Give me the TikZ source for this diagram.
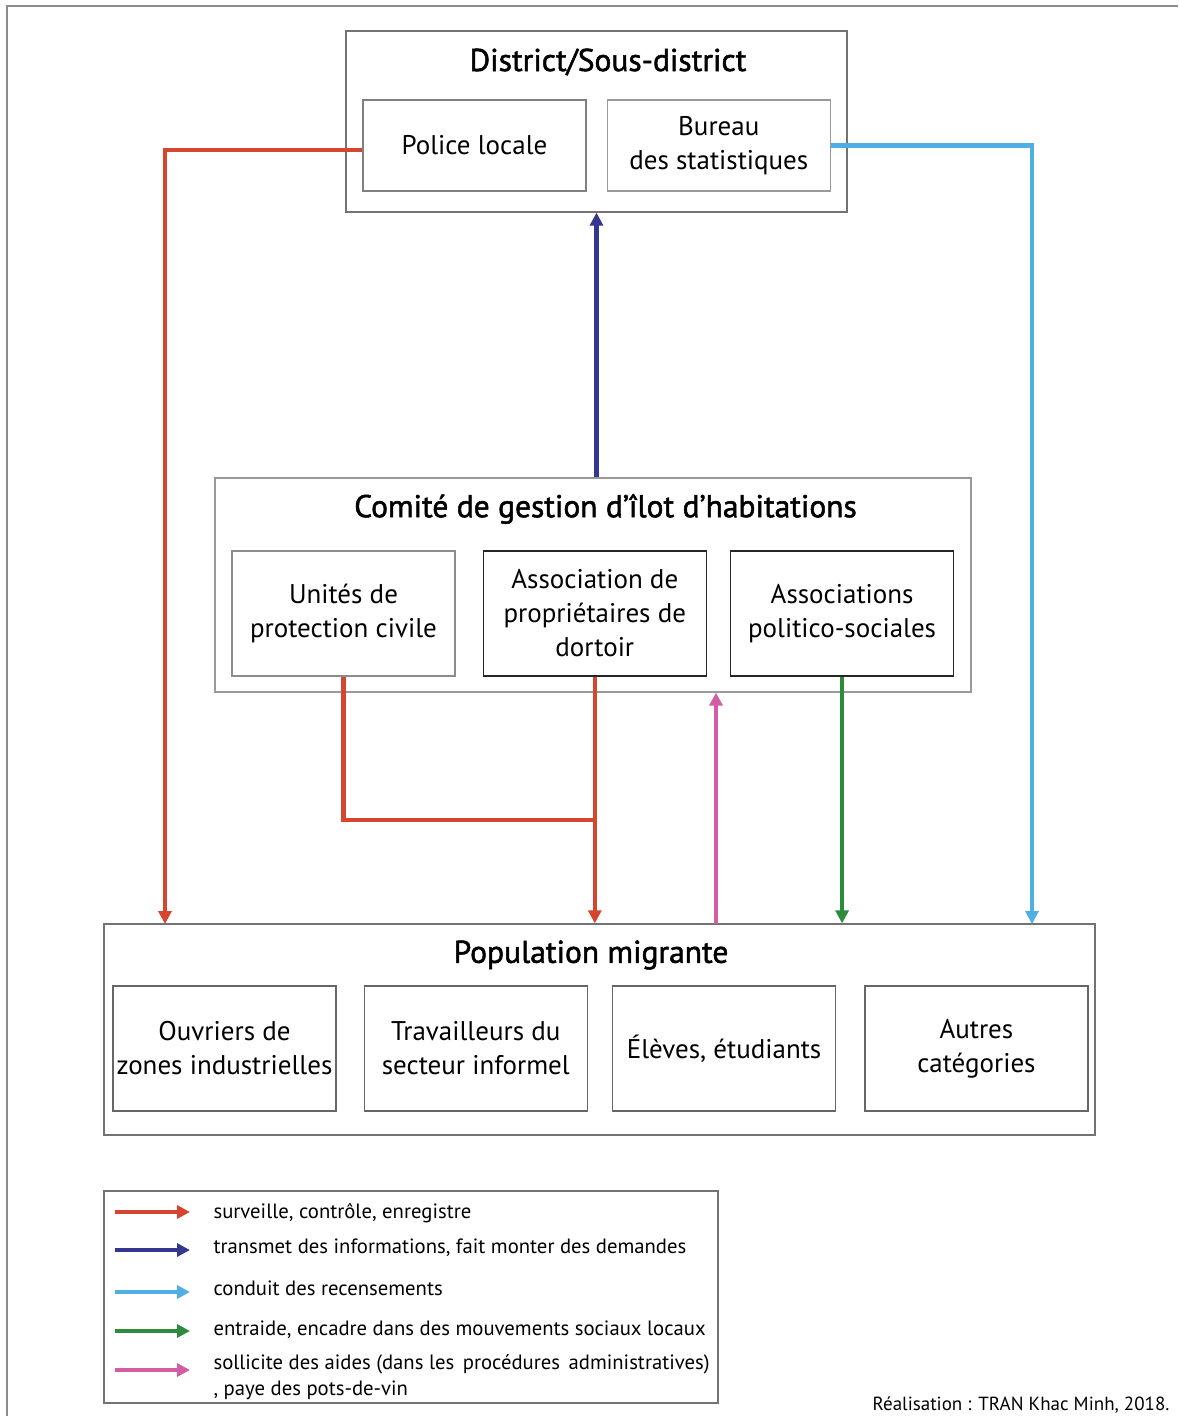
\documentclass[tikz,border=0pt]{standalone}
\usepackage{fontspec}
\setmainfont{PT Sans}
\newfontfamily\titrefont{PT Sans}[FakeBold=1.6]
\usetikzlibrary{arrows.meta, positioning, calc}

\definecolor{rouge}{HTML}{D6452D}
\definecolor{bleufonce}{HTML}{35378F}
\definecolor{bleuclair}{HTML}{4FAEE3}
\definecolor{vert}{HTML}{2D8C3C}
\definecolor{rose}{HTML}{D25DA5}

\begin{document}
\begin{tikzpicture}[x=1pt, y=-1pt,
    cadre/.style={draw=black!55, line width=1.3pt, inner sep=0pt},
    box/.style={draw=black!60, line width=1.3pt, inner sep=0pt, minimum width=223pt, minimum height=125pt, align=center, font=\fontsize{27}{34}\selectfont},
    titre/.style={font=\titrefont\fontsize{31.5}{36}\selectfont},
    legende/.style={anchor=west, align=left, font=\fontsize{20.7}{26}\selectfont},
    fleche/.style={line width=4.5pt, -{Triangle[length=13pt, width=13pt]}},
    lien/.style={line width=4.5pt}]
    \useasboundingbox (0,0) rectangle (1178,1416);
    \draw[black!45, line width=1.3pt] (7,1416) -- (7,6) -- (1178,6);

    % District
    \node[cadre, minimum width=501pt, minimum height=181pt] (district) at (596.5,121.5) {};
    \node[titre] (districttitre) at (608,62) {District/Sous-district};
    \node[box, draw=black!50, minimum height=91pt] (police) at (474.5,145.5) {Police locale};
    \node[box, draw=black!40, minimum height=91pt, right=20pt of police] (bureau) {Bureau\\des statistiques};

    % Comite
    \node[cadre, draw=black!40, minimum width=756pt, minimum height=214pt] (comite) at (593,585) {};
    \node[titre] (comitetitre) at (605.5,509) {Comité de gestion d’îlot d’habitations};
    \node[box, draw=black!45] (unites) at (343.5,613.5) {Unités de\\protection civile};
    \node[box, draw=black!85, right=27pt of unites] (assoc) {Association de\\propriétaires de\\dortoir};
    \node[box, draw=black!85, right=23pt of assoc] (politico) {Associations\\politico-sociales};

    % Population
    \node[cadre, minimum width=991pt, minimum height=211pt] (pop) at (599.5,1029.5) {};
    \node[titre] (poptitre) at (591,955) {Population migrante};
    \node[box] (ouvriers) at (224.5,1048.5) {Ouvriers de\\zones industrielles};
    \node[box, right=27pt of ouvriers] (travail) {Travailleurs du\\secteur informel};
    \node[box, right=24pt of travail] (eleves) {Élèves, étudiants};
    \node[box, right=28pt of eleves] (autres) {Autres\\catégories};

    \coordinate (popA) at (165,924);
    \coordinate (popD) at (1032,924);
    \coordinate (popC) at (716,924);
    \coordinate (jonction) at (594,820);

    \draw[fleche, rouge] ([yshift=-4.5pt]police.west) -| (popA);
    \draw[fleche, bleuclair] (bureau.east) -| (popD);
    \draw[fleche, bleufonce] (comite.north -| district.south) -- (district.south);
    \draw[lien, rouge] (unites.south) |- (jonction);
    \draw[fleche, rouge] (assoc.south) -- (assoc.south |- pop.north);
    \draw[fleche, rose] (popC) -- (popC |- comite.south);
    \draw[fleche, vert] (politico.south) -- (politico.south |- pop.north);

    % Legende
    \node[cadre, minimum width=614pt, minimum height=212pt] (legende) at (411,1297) {};
    \coordinate (l1a) at (115,1212); \coordinate (l1b) at (190,1212);
    \coordinate (l2a) at (115,1250); \coordinate (l2b) at (190,1250);
    \coordinate (l3a) at (115,1292); \coordinate (l3b) at (190,1292);
    \coordinate (l4a) at (115,1331); \coordinate (l4b) at (190,1331);
    \coordinate (l5a) at (115,1370); \coordinate (l5b) at (190,1370);
    \draw[fleche, rouge] (l1a) -- (l1b);
    \draw[fleche, bleufonce] (l2a) -- (l2b);
    \draw[fleche, bleuclair] (l3a) -- (l3b);
    \draw[fleche, vert] (l4a) -- (l4b);
    \draw[fleche, rose] (l5a) -- (l5b);
    \node[legende] (t1) at (210,1213) {surveille, contrôle, enregistre};
    \node[legende] (t2) at (210,1248) {transmet des informations, fait monter des demandes};
    \node[legende] (t3) at (210,1288) {conduit des recensements};
    \node[legende] (t4) at (210,1330) {entraide, encadre dans des mouvements sociaux locaux};
    \node[legende] (t5) at (210,1377) {sollicite des aides (dans les\hspace{3pt} procédures\hspace{3pt} administratives)\\, paye des pots-de-vin};

    \node[anchor=east, font=\fontsize{19}{22}\selectfont] (credit) at (1173,1405) {Réalisation : TRAN Khac Minh, 2018.};
\end{tikzpicture}
\end{document}
